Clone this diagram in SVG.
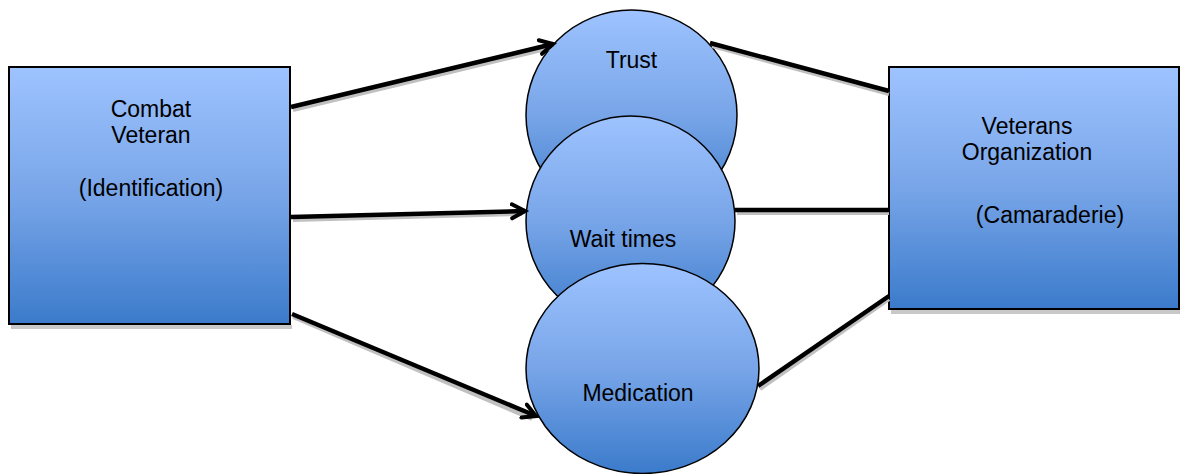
<svg xmlns="http://www.w3.org/2000/svg" width="1180" height="474" viewBox="0 0 1180 474">
<defs>
<linearGradient id="blue" x1="0" y1="0" x2="0" y2="1">
<stop offset="0" stop-color="#9EC3FF"/>
<stop offset="0.5" stop-color="#78A5E8"/>
<stop offset="1" stop-color="#3B7BCB"/>
</linearGradient>
<marker id="arr" markerUnits="userSpaceOnUse" markerWidth="30" markerHeight="30" refX="15" refY="8" orient="auto" viewBox="0 0 30 16">
<path d="M2,1 L15,8 L2,15" fill="none" stroke="#000" stroke-width="4" stroke-linecap="round" stroke-linejoin="miter"/>
</marker>
</defs>
<style>
.box{fill:url(#blue);stroke:#000;stroke-width:2}
.ell{fill:url(#blue);stroke:#000;stroke-width:1.5}
.shadow{fill:#c8c8c8}
.t{font-family:"Liberation Sans",Arial,sans-serif;font-size:23px;fill:#000;text-anchor:middle}
.ln{stroke:#000;stroke-width:4.5;fill:none}
.sh{stroke:#c0c0c0;stroke-width:4;fill:none}
</style>
<rect width="1180" height="474" fill="#fff"/>
<g id="combat-veteran">
<rect class="shadow" x="11" y="325" width="281" height="4"/>
<rect class="box" x="9" y="67" width="281" height="257"/>
<text class="t" x="151" y="117">Combat</text>
<text class="t" x="151" y="143">Veteran</text>
<text class="t" x="151" y="196">(Identification)</text>
</g>
<g id="veterans-organization">
<rect class="shadow" x="891" y="310" width="289" height="4"/>
<rect class="box" x="889" y="67" width="290" height="242"/>
<text class="t" x="1027" y="134">Veterans</text>
<text class="t" x="1027" y="160">Organization</text>
<text class="t" x="1050" y="223">(Camaraderie)</text>
</g>
<g id="trust">
<ellipse class="ell" cx="631.5" cy="115" rx="105.5" ry="105"/>
<text class="t" x="631.5" y="68">Trust</text>
</g>
<g id="wait-times">
<ellipse class="ell" cx="630.5" cy="221" rx="104.5" ry="105"/>
<text class="t" x="623" y="247">Wait times</text>
</g>
<g id="medication">
<ellipse class="ell" cx="642.5" cy="368.5" rx="116.5" ry="105"/>
<text class="t" x="638" y="401">Medication</text>
</g>
<g id="connectors">
<line class="sh" x1="293" y1="110" x2="550" y2="48"/>
<line class="sh" x1="293" y1="220" x2="522" y2="214"/>
<line class="sh" x1="293" y1="317" x2="532" y2="419"/>
<line class="sh" x1="712" y1="46" x2="889" y2="94"/>
<line class="sh" x1="737" y1="213" x2="889" y2="213"/>
<line class="sh" x1="760" y1="389" x2="889" y2="299"/>
<line class="ln" x1="291" y1="107" x2="553" y2="44" marker-end="url(#arr)"/>
<line class="ln" x1="291" y1="217" x2="525" y2="211" marker-end="url(#arr)"/>
<line class="ln" x1="292" y1="314" x2="536" y2="416" marker-end="url(#arr)"/>
<line class="ln" x1="710" y1="43" x2="889" y2="91"/>
<line class="ln" x1="735" y1="210" x2="889" y2="210"/>
<line class="ln" x1="758" y1="386" x2="889" y2="296"/>
</g>
</svg>
